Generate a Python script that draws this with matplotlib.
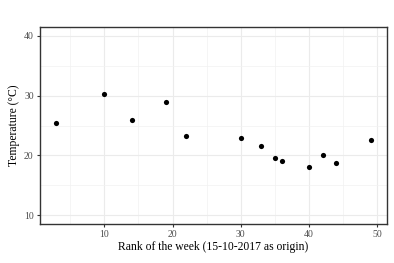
import matplotlib
matplotlib.use("Agg")
import matplotlib.pyplot as plt
from matplotlib.ticker import MultipleLocator

week = [3, 10, 14, 19, 22, 30, 33, 35, 36, 40, 42, 44, 49]
temp = [25.45, 30.3, 26.0, 29.0, 23.3, 22.9, 21.6, 19.6, 19.1, 18.0, 20.1, 18.7, 22.6]
x_ticks = [10, 20, 30, 40, 50]
y_ticks = [10, 20, 30, 40]

plt.rcParams['font.family'] = ['Liberation Serif', 'DejaVu Serif']

fig = plt.figure(figsize=(3.94, 2.63), dpi=100)
ax = fig.add_axes([40/394, 1-224/263, 347/394, 197/263])

ax.scatter(week, temp, s=14, color='black', zorder=3, linewidths=0)

ax.set_xlim(0.6, 51.4)
ax.set_ylim(8.5, 41.5)
ax.set_xticks(x_ticks)
ax.set_yticks(y_ticks)
ax.xaxis.set_minor_locator(MultipleLocator(5))
ax.yaxis.set_minor_locator(MultipleLocator(5))
ax.grid(which='major', color='#EBEBEB', linewidth=0.8, zorder=0)
ax.grid(which='minor', color='#F2F2F2', linewidth=0.5, zorder=0)
ax.set_axisbelow(True)

for sp in ax.spines.values():
    sp.set_color('#333333')
    sp.set_linewidth(1.0)

ax.tick_params(which='major', length=2.5, width=0.8, color='#333333',
               labelsize=7, labelcolor='#4D4D4D', pad=2)
ax.tick_params(which='minor', length=0)

ax.set_xlabel('Rank of the week (15-10-2017 as origin)', fontsize=8.4, labelpad=1.5)
ax.set_ylabel('Temperature (°C)', fontsize=8.4, labelpad=3)

fig.savefig('out.png', dpi=100)
